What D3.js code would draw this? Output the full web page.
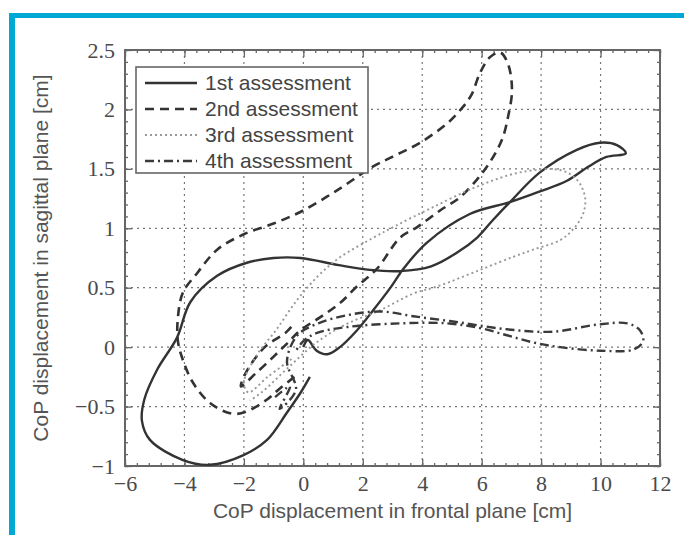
<!DOCTYPE html>
<html>
<head>
<meta charset="utf-8">
<script src="https://cdn.jsdelivr.net/npm/d3@7"></script>
<style>
  html, body { margin: 0; padding: 0; background: #fff; }
  svg { display: block; }
</style>
</head>
<body>
<svg id="chart" width="684" height="535"></svg>
<script>
// ticks
const xTicks = [-6, -4, -2, 0, 2, 4, 6, 8, 10, 12];
const yTicks = [-1, -0.5, 0, 0.5, 1, 1.5, 2, 2.5];

const seriesNames = ['1st assessment', '2nd assessment', '3rd assessment', '4th assessment'];

// CoP trajectories [frontal, sagittal] in cm, estimated from the figure
const firstAssessment = [
  [0.22, -0.25], [-0.11, -0.39], [-0.55, -0.55], [-1.22, -0.78], [-2.03, -0.91],
  [-3.14, -0.99], [-4.05, -0.95], [-5.16, -0.78], [-5.43, -0.62], [-5.35, -0.44],
  [-4.92, -0.19], [-4.25, 0.08], [-3.8, 0.38], [-2.9, 0.6], [-1.9, 0.71],
  [-1.0, 0.75], [-0.1, 0.75], [1.2, 0.69], [2.24, 0.65], [3.25, 0.64],
  [4.3, 0.68], [5.2, 0.8], [5.84, 0.92], [6.38, 1.07], [6.95, 1.22],
  [7.96, 1.47], [9.2, 1.66], [9.98, 1.72], [10.55, 1.7], [10.85, 1.63],
  [10.2, 1.6], [9.6, 1.52], [8.87, 1.4], [7.96, 1.31], [6.95, 1.22], [5.6, 1.12],
  [4.16, 0.88], [3.4, 0.67], [2.9, 0.49], [2.35, 0.31], [1.8, 0.14],
  [1.23, 0.0], [0.8, -0.06], [0.45, -0.03], [0.15, 0.06], [0.0, 0.0]
];

const secondAssessment = [
  [-0.3, -0.25], [-0.8, -0.35], [-1.22, -0.44], [-1.9, -0.54], [-2.4, -0.56],
  [-3.14, -0.47], [-3.71, -0.3], [-4.05, -0.11], [-4.22, 0.05], [-4.22, 0.25],
  [-4.05, 0.46], [-3.58, 0.62], [-2.9, 0.82], [-2.0, 0.95], [-1.0, 1.04],
  [0.0, 1.15], [1.2, 1.33], [2.35, 1.52], [3.15, 1.62], [3.93, 1.72],
  [4.83, 1.88], [5.3, 2.0], [5.65, 2.12], [5.95, 2.31], [6.28, 2.44],
  [6.62, 2.48], [6.89, 2.38], [7.02, 2.16], [6.89, 1.94], [6.72, 1.77],
  [6.5, 1.65], [6.18, 1.52], [5.84, 1.41], [5.27, 1.26], [4.6, 1.15],
  [3.83, 1.01], [3.25, 0.92], [2.48, 0.66], [1.8, 0.51], [1.23, 0.37],
  [0.56, 0.25], [-0.11, 0.14], [-0.55, 0.03], [-1.0, -0.08], [-1.6, -0.22],
  [-2.1, -0.33], [-1.9, -0.2], [-1.3, 0.0], [-0.6, 0.12], [-0.3, 0.2]
];

const thirdAssessment = [
  [-0.4, -0.1], [-1.2, -0.25], [-1.85, -0.38], [-2.0, -0.3], [-1.6, -0.08],
  [-0.9, 0.15], [-0.2, 0.4], [0.5, 0.6], [1.2, 0.75], [2.35, 0.92],
  [3.1, 1.02], [4.3, 1.17], [5.84, 1.35], [7.29, 1.47], [8.64, 1.49],
  [9.2, 1.41], [9.48, 1.26], [9.41, 1.12], [9.07, 0.99], [8.64, 0.9],
  [7.73, 0.82], [7.06, 0.76], [5.95, 0.65], [4.5, 0.51], [3.69, 0.45],
  [2.58, 0.31], [1.5, 0.2], [0.5, 0.05], [-0.5, -0.17], [-1.4, -0.38],
  [-1.8, -0.45]
];

const fourthAssessment = [
  [-0.95, -0.42], [-0.45, -0.33], [-0.8, -0.52], [-0.25, -0.36], [-0.55, -0.12],
  [-0.2, 0.1], [0.5, 0.2], [1.5, 0.27], [2.6, 0.3], [3.7, 0.26],
  [5.2, 0.21], [6.85, 0.15], [8.4, 0.13], [9.9, 0.19], [10.9, 0.2],
  [11.33, 0.14], [11.43, 0.05], [11.1, -0.02], [10.0, -0.03], [8.64, 0.0],
  [7.73, 0.04], [6.85, 0.1], [5.95, 0.16], [4.83, 0.2], [3.25, 0.2],
  [1.5, 0.17], [0.46, 0.12], [0.0, 0.05], [-0.3, -0.05]
];

const allSeries = [firstAssessment, secondAssessment, thirdAssessment, fourthAssessment];
const lineStyles = [
  { stroke: '#333', dash: null, width: 2.4 },
  { stroke: '#333', dash: '9,6', width: 2.6 },
  { stroke: '#999', dash: '2,3', width: 1.9 },
  { stroke: '#3a3a3a', dash: '9,4,2,4', width: 2.4 }
];

const svg = d3.select('#chart');
const margin = { left: 125, right: 24, top: 50, bottom: 69 };
const width = 684 - margin.left - margin.right;
const height = 535 - margin.top - margin.bottom;

// blue frame
svg.append('rect').attr('x', 9).attr('y', 13).attr('width', 684).attr('height', 5).attr('fill', '#00a8d6');
svg.append('rect').attr('x', 9).attr('y', 13).attr('width', 6).attr('height', 535).attr('fill', '#00a8d6');

const g = svg.append('g').attr('transform', `translate(${margin.left},${margin.top})`);

const xScale = d3.scaleLinear().domain([-6, 12]).range([0, width]);
const yScale = d3.scaleLinear().domain([-1, 2.5]).range([height, 0]);

// grid
g.append('g').selectAll('line')
  .data(xTicks.slice(1, -1))
  .join('line')
  .attr('x1', d => xScale(d)).attr('x2', d => xScale(d))
  .attr('y1', 0).attr('y2', height)
  .attr('stroke', '#777').attr('stroke-width', 1.2).attr('stroke-dasharray', '2,4');

g.append('g').selectAll('line')
  .data(yTicks.slice(1, -1))
  .join('line')
  .attr('x1', 0).attr('x2', width)
  .attr('y1', d => yScale(d)).attr('y2', d => yScale(d))
  .attr('stroke', '#777').attr('stroke-width', 1.2).attr('stroke-dasharray', '2,4');

// minor + major ticks on all four sides, pointing inward
const xMinor = d3.range(-6, 12.001, 0.4);
const yMinor = d3.range(-1, 2.501, 0.1);

function tickAxis(axisFn, scale, values, size, transform) {
  const a = g.append('g')
    .attr('transform', transform)
    .call(axisFn(scale).tickValues(values).tickSize(size).tickFormat(''));
  a.select('.domain').remove();
  a.selectAll('line').attr('stroke', '#666').attr('stroke-width', 1.3);
  return a;
}

tickAxis(d3.axisBottom, xScale, xMinor, -3, `translate(0,${height})`);
tickAxis(d3.axisTop, xScale, xMinor, -3, 'translate(0,0)');
tickAxis(d3.axisLeft, yScale, yMinor, -3, 'translate(0,0)');
tickAxis(d3.axisRight, yScale, yMinor, -3, `translate(${width},0)`);
tickAxis(d3.axisBottom, xScale, xTicks, -7, `translate(0,${height})`);
tickAxis(d3.axisTop, xScale, xTicks, -7, 'translate(0,0)');
tickAxis(d3.axisLeft, yScale, yTicks, -7, 'translate(0,0)');
tickAxis(d3.axisRight, yScale, yTicks, -7, `translate(${width},0)`);

// tick labels
const xAxis = g.append('g')
  .attr('transform', `translate(0,${height})`)
  .call(d3.axisBottom(xScale).tickValues(xTicks).tickSize(0).tickPadding(9).tickFormat(d3.format('')));
xAxis.select('.domain').remove();

const yAxis = g.append('g')
  .call(d3.axisLeft(yScale).tickValues(yTicks).tickSize(0).tickPadding(10).tickFormat(d3.format('')));
yAxis.select('.domain').remove();

g.selectAll('.tick text')
  .attr('font-family', '"Liberation Serif", "DejaVu Serif", serif')
  .attr('font-size', 22)
  .attr('fill', '#4a4a4a');

// frame of the plot
g.append('rect')
  .attr('width', width).attr('height', height)
  .attr('fill', 'none').attr('stroke', '#666').attr('stroke-width', 2);

// curves
const line = d3.line()
  .x(d => xScale(d[0]))
  .y(d => yScale(d[1]))
  .curve(d3.curveCatmullRom.alpha(0.5));

allSeries.forEach((data, i) => {
  const st = lineStyles[i];
  g.append('path')
    .datum(data)
    .attr('fill', 'none')
    .attr('stroke', st.stroke)
    .attr('stroke-width', st.width)
    .attr('stroke-dasharray', st.dash)
    .attr('stroke-linejoin', 'round')
    .attr('d', line);
});

// legend
const legend = g.append('g').attr('transform', 'translate(11,17)');
legend.append('rect')
  .attr('width', 232).attr('height', 106)
  .attr('fill', '#fff').attr('stroke', '#666').attr('stroke-width', 1.6);

seriesNames.forEach((name, i) => {
  const st = lineStyles[i];
  const yy = 16 + i * 26;
  legend.append('line')
    .attr('x1', 9).attr('x2', 61).attr('y1', yy).attr('y2', yy)
    .attr('stroke', st.stroke).attr('stroke-width', st.width)
    .attr('stroke-dasharray', st.dash);
  legend.append('text')
    .attr('x', 69).attr('y', yy).attr('dy', '0.35em')
    .attr('font-family', '"Liberation Sans", Arial, sans-serif')
    .attr('font-size', 21)
    .attr('fill', '#444')
    .text(name);
});

// axis titles
svg.append('text')
  .attr('x', margin.left + width / 2).attr('y', 518)
  .attr('text-anchor', 'middle')
  .attr('font-family', '"Liberation Sans", Arial, sans-serif')
  .attr('font-size', 21)
  .attr('fill', '#555')
  .text('CoP displacement in frontal plane [cm]');

svg.append('text')
  .attr('transform', `translate(48,${margin.top + height / 2}) rotate(-90)`)
  .attr('text-anchor', 'middle')
  .attr('font-family', '"Liberation Sans", Arial, sans-serif')
  .attr('font-size', 21)
  .attr('fill', '#555')
  .text('CoP displacement in sagittal plane [cm]');
</script>
</body>
</html>
